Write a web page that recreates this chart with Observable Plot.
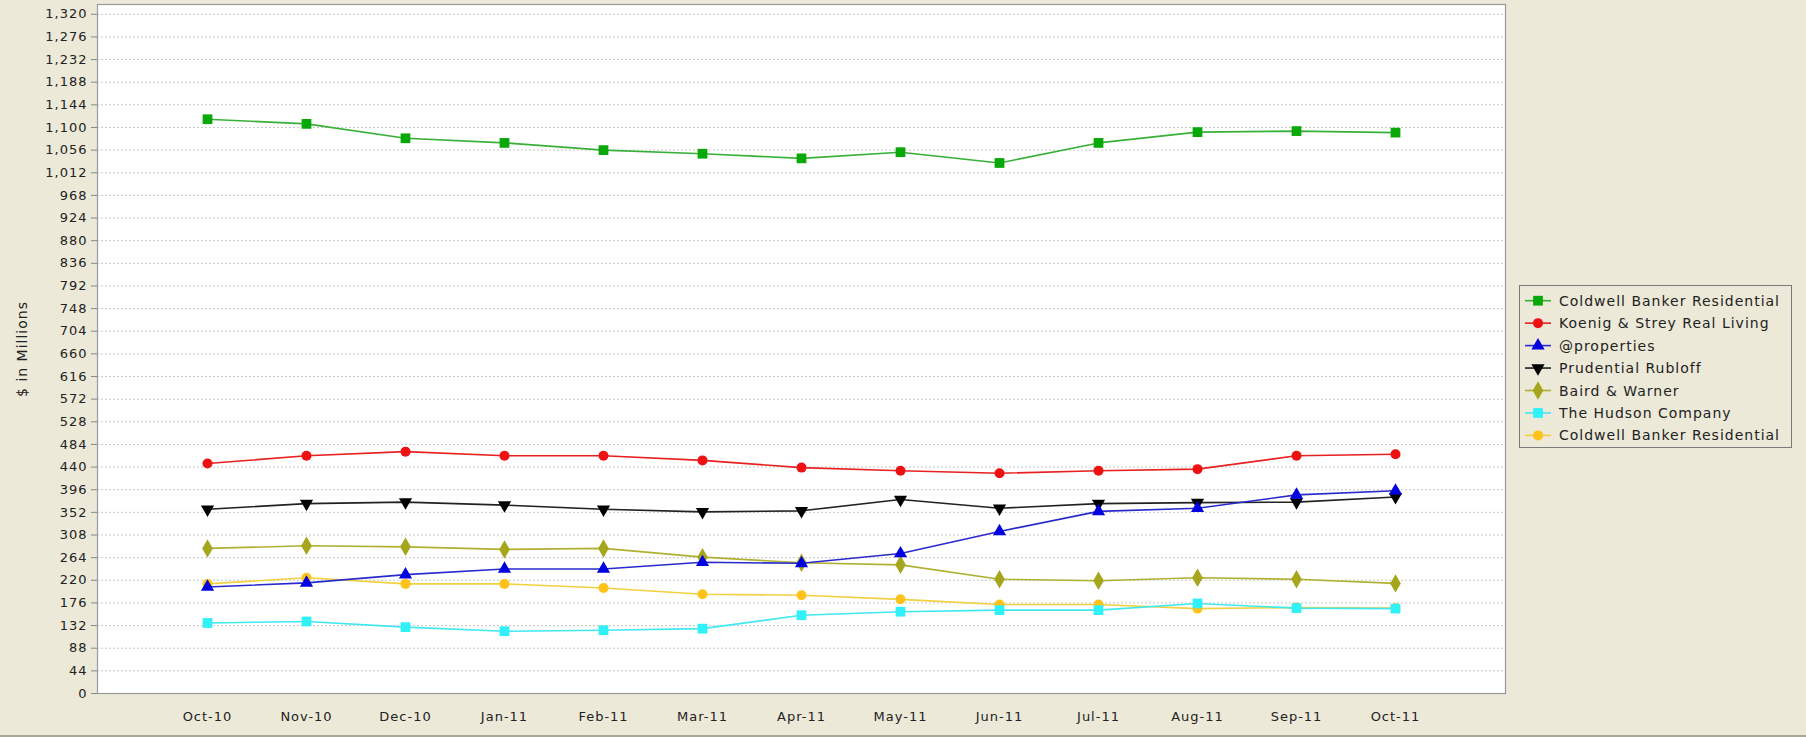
<!DOCTYPE html>
<html>
<head>
<meta charset="utf-8">
<script src="https://cdn.jsdelivr.net/npm/d3@7"></script>
<script src="https://cdn.jsdelivr.net/npm/@observablehq/plot@0.6"></script>
<style>
  html, body { margin: 0; padding: 0; background: #ECE9D8; overflow: hidden; }
  #wrap { position: relative; width: 1806px; height: 737px; background: #ECE9D8; }
  #wrap svg { display: block; }
  #bottomline { position: absolute; left: 0; top: 735px; width: 1806px; height: 2px; background: #A9A79A; }
  #legend { position: absolute; left: 1519px; top: 285px; }
</style>
</head>
<body>
<div id="wrap"><div id="bottomline"></div></div>
<script>
const months = ["Oct-10","Nov-10","Dec-10","Jan-11","Feb-11","Mar-11","Apr-11","May-11","Jun-11","Jul-11","Aug-11","Sep-11","Oct-11"];

const seriesNames = [
  "Coldwell Banker Residential",
  "Koenig & Strey Real Living",
  "@properties",
  "Prudential Rubloff",
  "Baird & Warner",
  "The Hudson Company",
  "Coldwell Banker Residential"
];

const coldwellBanker = [1116,1107,1079,1070,1056,1049,1040,1052,1031,1070,1091,1093,1090];
const koenigStrey    = [447,462,470,462,462,453,439,433,428,433,436,462,465];
const atProperties   = [207,215,231,242,242,255,253,272,315,354,360,386,394];
const prudential     = [358,369,372,366,358,353,355,377,360,369,371,372,382];
const bairdWarner    = [282,287,285,280,282,265,254,250,222,219,225,222,214];
const hudson         = [137,140,129,121,123,126,152,159,162,162,175,166,165];
const coldwellBanker2= [213,225,213,213,205,193,191,183,173,173,165,167,166];

const yTicks = d3.range(0, 1321, 44);
const yLabel = "$ in Millions";

// custom downward triangle
const triangleDown = {
  draw(context, size) {
    const s3 = Math.sqrt(3);
    const y = Math.sqrt(size / (s3 * 3));
    context.moveTo(0, y * 2);
    context.lineTo(-s3 * y, -y);
    context.lineTo(s3 * y, -y);
    context.closePath();
  }
};

const styles = [
  {line: "#38b038", fill: "#08a808", symbol: "square",   r: 5.5},
  {line: "#e82020", fill: "#ee1111", symbol: "circle",   r: 5.0},
  {line: "#2a2acc", fill: "#0000e0", symbol: "triangle", r: 4.9},
  {line: "#222222", fill: "#000000", symbol: triangleDown, r: 4.9},
  {line: "#b0b030", fill: "#a6a61c", symbol: "diamond",  r: 5.6},
  {line: "#40e8f0", fill: "#30f0f8", symbol: "square",   r: 5.5},
  {line: "#f2d040", fill: "#ffc21a", symbol: "circle",   r: 5.0}
];

const values = [coldwellBanker, koenigStrey, atProperties, prudential, bairdWarner, hudson, coldwellBanker2];

const series = values.map((vals, i) => vals.map((v, j) => ({month: months[j], value: v, s: i})));

const marks = [
  Plot.frame({fill: "white", stroke: null}),
  Plot.gridY(yTicks, {stroke: "#c8c8c8", strokeOpacity: 1, strokeDasharray: "2,2", strokeWidth: 1}),
];
for (let i = series.length - 1; i >= 0; i--) {
  const st = styles[i];
  marks.push(Plot.line(series[i], {x: "month", y: "value", stroke: st.line, strokeWidth: 1.6}));
  marks.push(Plot.dot(series[i], {x: "month", y: "value", fill: st.fill, stroke: null, symbol: () => st.symbol, r: st.r}));
}
marks.push(
  Plot.frame({stroke: "#9a9a9a", strokeWidth: 1.2}),
  Plot.axisY({ticks: yTicks, tickSize: 6, tickPadding: 4, tickFormat: d3.format(","), stroke: "#888", label: null, fill: "#222"}),
  Plot.axisX({tickSize: 0, tickPadding: 18, label: null, fill: "#222"}),
  Plot.text([yLabel], {frameAnchor: "left", textAnchor: "middle", lineAnchor: "middle", dx: -75, rotate: -90, text: d => d, fontSize: 14, fill: "#222"})
);

const chart = Plot.plot({
  width: 1806,
  height: 737,
  marginLeft: 97,
  marginRight: 301,
  marginTop: 4,
  marginBottom: 44,
  x: {type: "point", domain: months, padding: 1.09},
  y: {domain: [0, 1339]},
  symbol: {type: "identity"},
  style: {background: "transparent", fontFamily: "'DejaVu Sans', sans-serif", fontSize: "13px", letterSpacing: "1px", color: "#222"},
  marks
});
document.getElementById("wrap").prepend(chart);

// legend
const legW = 272, legH = 162;
const leg = d3.select("#wrap").append("svg")
  .attr("id", "legend")
  .attr("width", legW + 2).attr("height", legH + 2)
  .style("font-family", "'DejaVu Sans', sans-serif")
  .style("font-size", "14px")
  .style("letter-spacing", "1px");
leg.append("rect").attr("x", 0.5).attr("y", 0.5).attr("width", legW).attr("height", legH)
  .attr("fill", "#ECE9D8").attr("stroke", "#7a7a7a");
const symMap = {square: d3.symbolSquare, circle: d3.symbolCircle, triangle: d3.symbolTriangle, diamond: d3.symbolDiamond};
seriesNames.forEach((name, i) => {
  const st = styles[i];
  const cy = 15.7 + i * 22.45;
  const g = leg.append("g");
  g.append("line").attr("x1", 6).attr("x2", 32).attr("y1", cy).attr("y2", cy)
    .attr("stroke", st.line).attr("stroke-width", 1.6);
  const sym = typeof st.symbol === "string" ? symMap[st.symbol] : st.symbol;
  g.append("path").attr("transform", `translate(19,${cy})`)
    .attr("d", d3.symbol(sym, Math.PI * st.r * st.r)())
    .attr("fill", st.fill);
  g.append("text").attr("x", 40).attr("y", cy).attr("dy", "0.36em").attr("fill", "#222").text(name);
});
</script>
</body>
</html>
